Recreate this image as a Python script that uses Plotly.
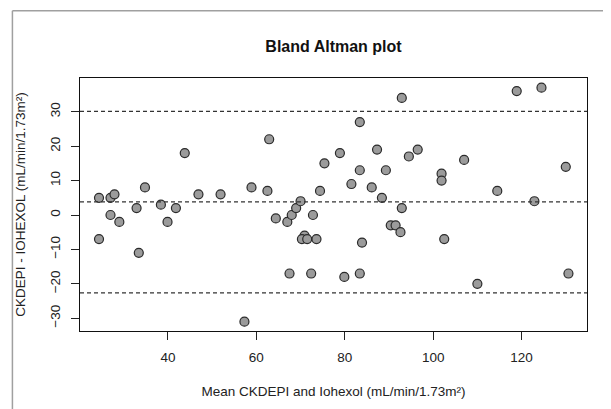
import plotly.graph_objects as go

# Bland-Altman data: mean of the two methods (x) and difference (y)
mean_vals = [24.4, 24.4, 27.0, 27.9, 27.0, 29.0, 32.9, 33.4, 34.8, 38.4, 39.9, 41.8, 43.8, 46.9, 51.9,
             57.3, 58.9, 62.5, 62.9, 64.4, 67.0, 67.5, 68.0, 69.0, 70.0, 70.9, 70.3, 71.5, 72.4, 72.8,
             73.6, 74.4, 75.4, 78.9, 79.9, 81.5, 83.4, 83.4, 83.4, 83.9, 86.1, 87.3, 88.4, 89.3, 90.4,
             91.5, 92.6, 92.9, 92.9, 94.5, 96.5, 101.9, 101.9, 102.5, 107.0, 110.0, 114.5, 118.9, 122.9,
             124.5, 130.0, 130.6]
diff_vals = [5, -7, 5, 6, 0, -2, 2, -11, 8, 3, -2, 2, 18, 6, 6,
             -31, 8, 7, 22, -1, -2, -17, 0, 2, 4, -6, -7, -7, -17, 0,
             -7, 7, 15, 18, -18, 9, 27, 13, -17, -8, 8, 19, 5, 13, -3,
             -3, -5, 2, 34, 17, 19, 12, 10, -7, 16, -20, 7, 36, 4,
             37, 14, -17]

# Reference lines: mean difference and limits of agreement
mean_diff = 3.8
upper_loa = 30.1
lower_loa = -22.6

x_ticks = [40, 60, 80, 100, 120]
y_ticks = [-30, -20, -10, 0, 10, 20, 30]

FONT = "Liberation Sans, Arial, sans-serif"

# the page body adds an 8px offset, so the figure is 8px smaller than the window
W, H = 603, 401

fig = go.Figure()
fig.add_trace(go.Scatter(
    x=mean_vals, y=diff_vals, mode="markers",
    marker=dict(size=9, color="#9b9b9b", line=dict(color="#2a2a2a", width=1.2)),
    showlegend=False, cliponaxis=False,
))

for yv in [upper_loa, mean_diff, lower_loa]:
    fig.add_shape(type="line", xref="paper", x0=0, x1=1, yref="y", y0=yv, y1=yv,
                  line=dict(color="#333333", width=1.3, dash="4px,3px"), layer="above")

# outer frame (gray lines at left and top of the image)
fig.add_shape(type="line", xref="paper", yref="paper", x0=-0.1333, x1=1.2, y0=1.266, y1=1.266,
              line=dict(color="#a0a0a0", width=1.5))
fig.add_shape(type="line", xref="paper", yref="paper", x0=-0.1333, x1=-0.1333, y0=1.266, y1=-0.4,
              line=dict(color="#a0a0a0", width=1.5))

fig.update_layout(
    width=W, height=H,
    margin=dict(l=69, r=24, t=70, b=78),
    paper_bgcolor="white", plot_bgcolor="white",
    font=dict(family=FONT, size=13.5, color="#222222"),
    title=dict(text="Bland Altman plot", x=0.5, xref="paper", y=1 - 38 / H, yanchor="middle",
               xanchor="center", font=dict(family=FONT, size=16, color="#111111", weight="bold")),
    xaxis=dict(range=[20.1, 134.8], tickvals=x_ticks, ticks="outside", ticklen=8, tickwidth=1,
               tickcolor="#222222", showline=True, mirror=True, linecolor="#111111", linewidth=1.2,
               showgrid=False, zeroline=False, ticklabelstandoff=6,
               title=dict(text="Mean CKDEPI and Iohexol (mL/min/1.73m²)", standoff=22,
                          font=dict(size=13.5))),
    yaxis=dict(range=[-33.7, 39.8], tickvals=y_ticks, ticks="outside", ticklen=8, tickwidth=1,
               tickcolor="#222222", showline=True, mirror=True, linecolor="#111111", linewidth=1.2,
               showgrid=False, zeroline=False, tickangle=-90, ticklabelstandoff=6,
               title=dict(text="CKDEPI - IOHEXOL (mL/min/1.73m²)", standoff=18,
                          font=dict(size=13.5))),
)

fig.write_html("out.html")
